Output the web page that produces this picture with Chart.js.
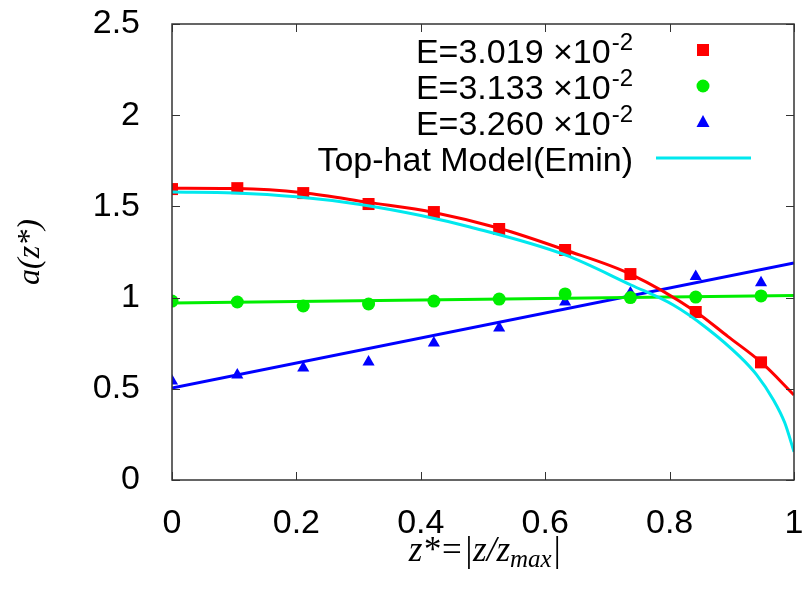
<!DOCTYPE html>
<html>
<head>
<meta charset="utf-8">
<script src="https://cdn.jsdelivr.net/npm/chart.js@4.4.1/dist/chart.umd.min.js"></script>
<style>
  html, body { margin: 0; padding: 0; background: #fff; }
  #chart { display: block; }
</style>
</head>
<body>
<canvas id="chart" width="804" height="591"></canvas>
<script>
// Measured points (z*, a)
const zPoints = [0, 0.105, 0.211, 0.316, 0.421, 0.526, 0.632, 0.737, 0.842, 0.947];
const redPoints = [1.595, 1.600, 1.573, 1.513, 1.469, 1.376, 1.261, 1.129, 0.921, 0.645];
const greenPoints = [0.981, 0.976, 0.954, 0.965, 0.981, 0.992, 1.020, 1.000, 1.003, 1.009];
const bluePoints = [0.543, 0.576, 0.614, 0.647, 0.751, 0.833, 0.976, 1.025, 1.115, 1.082];

// Fitted curves
const redFitZ = [0, 0.105, 0.211, 0.316, 0.421, 0.526, 0.632, 0.737, 0.842, 0.894, 0.948, 1.0];
const redFit = [1.600, 1.598, 1.575, 1.522, 1.467, 1.380, 1.261, 1.129, 0.923, 0.786, 0.643, 0.466];
const lineFitZ = [0, 1];
const greenFit = [0.970, 1.012];
const blueFit = [0.504, 1.190];

// Top-hat model (Emin)
const modelZ = [0, 0.1, 0.2, 0.3, 0.4, 0.479, 0.632, 0.738, 0.806, 0.86, 0.913, 0.94, 0.967, 0.985, 1.0];
const modelA = [1.579, 1.574, 1.553, 1.512, 1.450, 1.387, 1.234, 1.069, 0.959, 0.832, 0.676, 0.576, 0.439, 0.315, 0.155];

// Axis ticks / labels
const xTicks = [0, 0.2, 0.4, 0.6, 0.8, 1];
const yTicks = [0, 0.5, 1, 1.5, 2, 2.5];
const legendLabels = ['E=3.019 \u00d710', 'E=3.133 \u00d710', 'E=3.260 \u00d710', 'Top-hat Model(Emin)'];
const legendSup = ['-2', '-2', '-2', ''];

const RED = '#ff0000';
const GREEN = '#00ee00';
const BLUE = '#0000ff';
const CYAN = '#00e8ee';
const FRAME = '#333333';
const SANS = '"Liberation Sans", Arial, sans-serif';
const SERIF = '"Liberation Serif", "Times New Roman", serif';

const toXY = (xs, ys) => xs.map((x, i) => ({ x: x, y: ys[i] }));

// Frame with inward ticks on all four sides
const framePlugin = {
  id: 'frame',
  afterDatasetsDraw(chart) {
    const { ctx, chartArea: a, scales } = chart;
    const len = 8;
    ctx.save();
    ctx.strokeStyle = FRAME;
    ctx.lineWidth = 1.5;
    ctx.strokeRect(a.left, a.top, a.right - a.left, a.bottom - a.top);
    ctx.beginPath();
    xTicks.forEach(v => {
      const px = Math.round(scales.x.getPixelForValue(v)) + 0.5;
      ctx.moveTo(px, a.bottom); ctx.lineTo(px, a.bottom - len);
      ctx.moveTo(px, a.top); ctx.lineTo(px, a.top + len);
    });
    yTicks.forEach(v => {
      const py = Math.round(scales.y.getPixelForValue(v)) + 0.5;
      ctx.moveTo(a.left, py); ctx.lineTo(a.left + len, py);
      ctx.moveTo(a.right, py); ctx.lineTo(a.right - len, py);
    });
    ctx.lineWidth = 1;
    ctx.stroke();
    ctx.restore();
  }
};

// Axis titles and gnuplot-like key
const textPlugin = {
  id: 'texts',
  afterDraw(chart) {
    const { ctx, chartArea: a } = chart;
    ctx.save();
    ctx.fillStyle = '#000';

    // y title
    ctx.font = 'italic 32px ' + SERIF;
    ctx.textAlign = 'center';
    ctx.textBaseline = 'middle';
    ctx.save();
    ctx.translate(31, (a.top + a.bottom) / 2);
    ctx.rotate(-Math.PI / 2);
    ctx.fillText('a(z*)', 0, 0);
    ctx.restore();

    // x title: z*=|z/z_max|
    const mainFont = 'italic 35px ' + SERIF;
    const subFont = 'italic 25px ' + SERIF;
    ctx.textAlign = 'left';
    ctx.textBaseline = 'alphabetic';
    ctx.font = mainFont;
    const w1 = ctx.measureText('z*=|z/z').width;
    const w3 = ctx.measureText('|').width;
    ctx.font = subFont;
    const w2 = ctx.measureText('max').width;
    const x0 = 485 - (w1 + w2 + w3) / 2;
    const base = 561;
    ctx.font = mainFont;
    ctx.fillText('z*=|z/z', x0, base);
    ctx.font = subFont;
    ctx.fillText('max', x0 + w1, base + 6);
    ctx.font = mainFont;
    ctx.fillText('|', x0 + w1 + w2, base);

    // key
    const rows = [50, 86, 122, 158];
    const textRight = 633;
    const symX = 703;
    rows.forEach((y, i) => {
      ctx.textAlign = 'right';
      ctx.textBaseline = 'alphabetic';
      let right = textRight;
      if (legendSup[i]) {
        ctx.font = '24px ' + SANS;
        ctx.fillText(legendSup[i], right, y);
        right -= ctx.measureText(legendSup[i]).width + 1;
      }
      ctx.font = '34px ' + SANS;
      ctx.fillText(legendLabels[i], right, y + 13);
    });

    ctx.fillStyle = RED;
    ctx.fillRect(symX - 6, rows[0] - 6, 12, 12);
    ctx.fillStyle = GREEN;
    ctx.beginPath();
    ctx.arc(symX, rows[1], 6.5, 0, Math.PI * 2);
    ctx.fill();
    ctx.fillStyle = BLUE;
    ctx.beginPath();
    ctx.moveTo(symX, rows[2] - 7);
    ctx.lineTo(symX + 6.5, rows[2] + 5);
    ctx.lineTo(symX - 6.5, rows[2] + 5);
    ctx.closePath();
    ctx.fill();
    ctx.strokeStyle = CYAN;
    ctx.lineWidth = 3;
    ctx.beginPath();
    ctx.moveTo(656, rows[3]);
    ctx.lineTo(751, rows[3]);
    ctx.stroke();

    ctx.restore();
  }
};

function lineSet(xs, ys, color, order) {
  return {
    data: toXY(xs, ys),
    showLine: true,
    borderColor: color,
    borderWidth: 3,
    pointRadius: 0,
    cubicInterpolationMode: 'monotone',
    order: order
  };
}

function pointSet(ys, color, style, radius, order) {
  return {
    data: toXY(zPoints, ys),
    showLine: false,
    pointStyle: style,
    pointRadius: radius,
    pointBorderWidth: 0,
    backgroundColor: color,
    borderColor: color,
    order: order
  };
}

const ctx = document.getElementById('chart').getContext('2d');
new Chart(ctx, {
  type: 'scatter',
  data: {
    datasets: [
      lineSet(modelZ, modelA, CYAN, 1),
      pointSet(redPoints, RED, 'rect', 8.5, 2),
      pointSet(greenPoints, GREEN, 'circle', 6.5, 3),
      pointSet(bluePoints, BLUE, 'triangle', 7, 4),
      lineSet(redFitZ, redFit, RED, 5),
      lineSet(lineFitZ, greenFit, GREEN, 6),
      lineSet(lineFitZ, blueFit, BLUE, 7)
    ]
  },
  options: {
    responsive: false,
    animation: false,
    layout: { padding: { left: 0, right: 10, top: 24, bottom: 0 } },
    plugins: {
      legend: { display: false },
      tooltip: { enabled: false }
    },
    scales: {
      x: {
        type: 'linear',
        min: 0,
        max: 1,
        afterBuildTicks: s => { s.ticks = xTicks.map(v => ({ value: v })); },
        afterFit: s => {
          s.height = 111;
          s.paddingLeft = 0;
          s.paddingRight = 0;
        },
        grid: { display: false },
        border: { display: false },
        ticks: {
          padding: 15,
          color: '#000',
          font: { family: SANS, size: 34 },
          callback: v => String(v)
        }
      },
      y: {
        type: 'linear',
        min: 0,
        max: 2.5,
        afterBuildTicks: s => { s.ticks = yTicks.map(v => ({ value: v })); },
        afterFit: s => {
          s.width = 172;
          s.paddingTop = 0;
          s.paddingBottom = 0;
        },
        grid: { display: false },
        border: { display: false },
        ticks: {
          padding: 24,
          color: '#000',
          font: { family: SANS, size: 34 },
          callback: v => String(v)
        }
      }
    }
  },
  plugins: [framePlugin, textPlugin]
});
</script>
</body>
</html>
